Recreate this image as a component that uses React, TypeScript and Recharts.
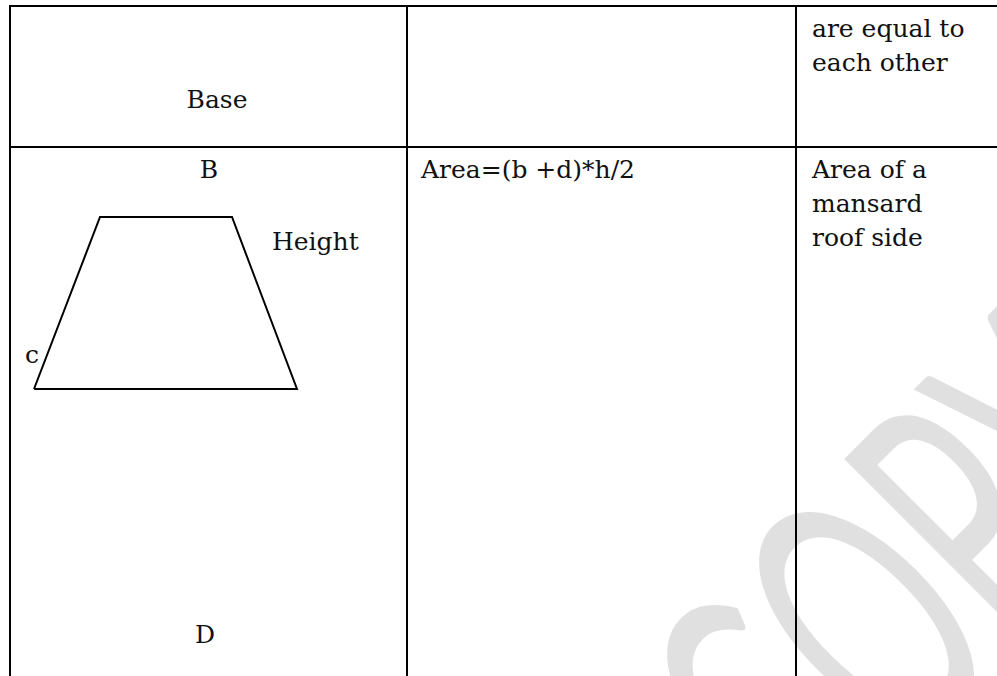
import React from 'react';
import { ComposedChart, XAxis, YAxis, Scatter, ReferenceLine } from 'recharts';

const W = 997;
const H = 676;

// Drawing units: x to the right, y downward (0..997, 0..676)
const trapezoid = [
  { x: 34, y: 389 },
  { x: 100, y: 217 },
  { x: 232, y: 217 },
  { x: 297, y: 389 },
  { x: 34, y: 389 },
];

const horizontalRules = [
  { y: 6, from: 9, to: 997 },
  { y: 147, from: 9, to: 997 },
];

const verticalRules = [
  { x: 10, from: 5, to: 676 },
  { x: 407, from: 5, to: 676 },
  { x: 796, from: 5, to: 676 },
];

const cellTexts = [
  { x: 217, y: 108, text: 'Base', anchor: 'middle' },
  { x: 209, y: 178, text: 'B', anchor: 'middle' },
  { x: 272, y: 250, text: 'Height', anchor: 'start' },
  { x: 25, y: 363, text: 'c', anchor: 'start' },
  { x: 205, y: 643, text: 'D', anchor: 'middle' },
  { x: 421, y: 178, text: 'Area=(b +d)*h/2', anchor: 'start' },
  { x: 812, y: 37, text: 'are equal to', anchor: 'start' },
  { x: 812, y: 71, text: 'each other', anchor: 'start' },
  { x: 812, y: 178, text: 'Area of a', anchor: 'start' },
  { x: 812, y: 212, text: 'mansard', anchor: 'start' },
  { x: 812, y: 246, text: 'roof side', anchor: 'start' },
];

const watermarkText = 'COPY';

const FONT = '"DejaVu Serif", serif';

const TextMark = (props: any) => {
  const { cx, cy, payload } = props;
  if (cx == null || cy == null || !payload) return <g />;
  return (
    <text
      x={cx}
      y={cy}
      textAnchor={payload.anchor}
      fontFamily={FONT}
      fontSize={25}
      fill="#111"
    >
      {payload.text}
    </text>
  );
};

const NoDot = () => <g />;

export default function App() {
  return (
    <div
      style={{
        position: 'absolute',
        left: 0,
        top: 0,
        width: W,
        height: H,
        background: '#fff',
        overflow: 'hidden',
      }}
    >
      <svg
        width={W}
        height={H}
        style={{ position: 'absolute', left: 0, top: 0 }}
      >
        <text
          x={0}
          y={0}
          transform="translate(997 672) rotate(-45) scale(0.55 1)"
          textAnchor="middle"
          fontFamily="Lato, 'Open Sans', sans-serif"
          fontSize={361}
          fill="#e0e0e0"
        >
          {watermarkText}
        </text>
      </svg>
      <div style={{ position: 'absolute', left: 0, top: 0 }}>
        <ComposedChart
          width={W}
          height={H}
          margin={{ top: 0, right: 0, bottom: 0, left: 0 }}
        >
          <XAxis
            type="number"
            dataKey="x"
            domain={[0, W]}
            allowDataOverflow
            hide
          />
          <YAxis
            type="number"
            dataKey="y"
            domain={[0, H]}
            reversed
            allowDataOverflow
            hide
          />
          {horizontalRules.map((r, i) => (
            <ReferenceLine
              key={'h' + i}
              segment={[
                { x: r.from, y: r.y },
                { x: r.to, y: r.y },
              ]}
              stroke="#000"
              strokeWidth={2}
              ifOverflow="visible"
            />
          ))}
          {verticalRules.map((r, i) => (
            <ReferenceLine
              key={'v' + i}
              segment={[
                { x: r.x, y: r.from },
                { x: r.x, y: r.to },
              ]}
              stroke="#000"
              strokeWidth={2}
              ifOverflow="visible"
            />
          ))}
          <Scatter
            data={trapezoid}
            line={{ stroke: '#000', strokeWidth: 2, fill: 'none' }}
            lineJointType="linear"
            shape={NoDot}
            isAnimationActive={false}
          />
          <Scatter
            data={cellTexts}
            shape={TextMark}
            isAnimationActive={false}
          />
        </ComposedChart>
      </div>
    </div>
  );
}
